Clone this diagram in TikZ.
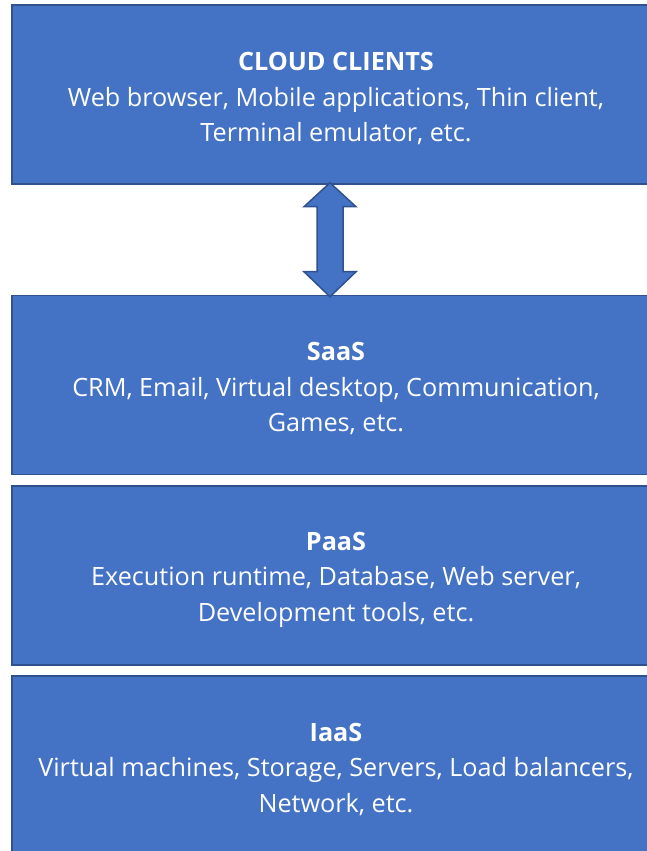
\documentclass[tikz,border=0pt]{standalone}
\usepackage{fontspec}
\setmainfont{Open Sans}
\usetikzlibrary{calc}
\definecolor{boxfill}{HTML}{4472C4}
\definecolor{boxline}{HTML}{2F528F}

\begin{document}
\begin{tikzpicture}[x=1pt,y=1pt,
  layer/.style={rectangle, draw=boxline, fill=boxfill, line width=1.5pt,
                minimum width=648pt, minimum height=179pt},
  layertext/.style={text=white, align=center, font=\fontsize{25.2}{35.5}\selectfont},
  bigarrow/.style={draw=boxline, fill=boxfill, line width=1.5pt, line join=miter}]

\useasboundingbox (0,0) rectangle (647,851);
\clip (0,0) rectangle (647,851);

\node[layer] (clients) at (336,756.5) {};
\node[layer] (saas) at (336,466) {};
\node[layer] (paas) at (336,275.5) {};
\node[layer] (iaas) at (336,85.5) {};

\node[layertext] (clientstxt) at ($(clients)+(0,-4)$) {\textbf{CLOUD CLIENTS}\\Web browser, Mobile applications, Thin client,\\Terminal emulator, etc.};
\node[layertext] (saastxt) at ($(saas)+(0,-4)$) {\textbf{SaaS}\\CRM, Email, Virtual desktop, Communication,\\Games, etc.};
\node[layertext] (paastxt) at ($(paas)+(0,-4)$) {\textbf{PaaS}\\Execution runtime, Database, Web server,\\Development tools, etc.};
\node[layertext] (iaastxt) at ($(iaas)+(0,-4)$) {\textbf{IaaS}\\Virtual machines, Storage, Servers, Load balancers,\\Network, etc.};

% double arrow between clients and SaaS
\coordinate (top) at ($(clients.south)+(-6,2)$);
\coordinate (bot) at ($(saas.north)+(-6,-2)$);
\draw[bigarrow] (top) -- ++(26,-24) -- ++(-13,0) -- ($(bot)+(13,25)$) -- ++(13,0) -- (bot)
      -- ++(-26,25) -- ++(13,0) -- ($(top)+(-13,-24)$) -- ++(-13,0) -- cycle;

\end{tikzpicture}
\end{document}
